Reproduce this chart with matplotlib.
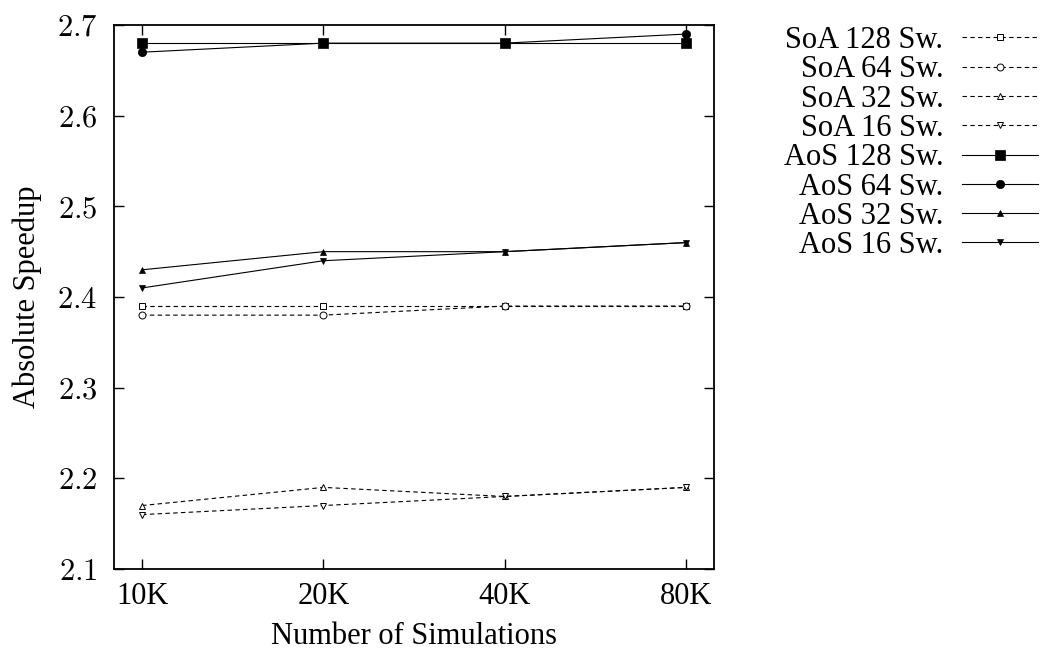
#!/usr/bin/env python3
"""Absolute speedup, SoA vs AoS, per numero di simulazioni."""
import matplotlib
matplotlib.use("Agg")
import matplotlib.pyplot as plt

# --- Dati ---
simulations = ["10K", "20K", "40K", "80K"]
soa_128 = [2.39, 2.39, 2.39, 2.39]
soa_64 = [2.38, 2.38, 2.39, 2.39]
soa_32 = [2.17, 2.19, 2.18, 2.19]
soa_16 = [2.16, 2.17, 2.18, 2.19]
aos_128 = [2.68, 2.68, 2.68, 2.68]
aos_64 = [2.67, 2.68, 2.68, 2.69]
aos_32 = [2.43, 2.45, 2.45, 2.46]
aos_16 = [2.41, 2.44, 2.45, 2.46]
y_ticks = [2.1, 2.2, 2.3, 2.4, 2.5, 2.6, 2.7]

plt.rcParams["font.family"] = ["Liberation Serif", "DejaVu Serif"]
plt.rcParams["mathtext.fontset"] = "cm"
plt.rcParams["font.size"] = 22

fig = plt.figure(figsize=(10.43, 6.55), dpi=100)
ax = fig.add_axes([114 / 1043, 1 - 569 / 655, 600 / 1043, 544 / 655])

x = list(range(len(simulations)))
dashed = (0, (4, 3))

# (etichetta, valori, marker, pieno, stile linea)
series = [
    ("SoA 128 Sw.", soa_128, "s", False, dashed),
    ("SoA 64 Sw.", soa_64, "o", False, dashed),
    ("SoA 32 Sw.", soa_32, "^", False, dashed),
    ("SoA 16 Sw.", soa_16, "v", False, dashed),
    ("AoS 128 Sw.", aos_128, "s", True, "-"),
    ("AoS 64 Sw.", aos_64, "o", True, "-"),
    ("AoS 32 Sw.", aos_32, "^", True, "-"),
    ("AoS 16 Sw.", aos_16, "v", True, "-"),
]

for label, values, marker, filled, ls in series:
    if filled:
        size = 6.5 if marker == "s" else 6 if marker == "o" else 4.8
        ax.plot(x, values, linestyle=ls, color="black", linewidth=0.8,
                marker=marker, markersize=size, markerfacecolor="black",
                markeredgecolor="black", markeredgewidth=0.5, label=label)
    else:
        ax.plot(x, values, linestyle=ls, color="black", linewidth=0.8,
                marker=marker, markersize=5, markerfacecolor="white",
                markeredgecolor="black", markeredgewidth=0.7, label=label)

ax.set_xlim(-0.155, 3.155)
ax.set_ylim(2.1, 2.7)
ax.set_xticks(x, labels=simulations)
ax.set_yticks(y_ticks, labels=[f"${v:.1f}$" for v in y_ticks])
ax.tick_params(direction="in", length=7, width=1, top=True, right=True)
ax.tick_params(axis="x", pad=9)
ax.tick_params(axis="y", pad=12)
for spine in ax.spines.values():
    spine.set_linewidth(1.3)

ax.set_xlabel("Number of Simulations", labelpad=8)
ax.set_ylabel("Absolute Speedup", labelpad=11)

leg = fig.legend(loc="upper right", bbox_to_anchor=(1038 / 1043, 1 - 26 / 655),
                 bbox_transform=fig.transFigure, frameon=False,
                 markerfirst=False, handlelength=2.5, handletextpad=0.6,
                 labelspacing=0.01, borderpad=0, borderaxespad=0)

fig.savefig("out.png", dpi=100)
